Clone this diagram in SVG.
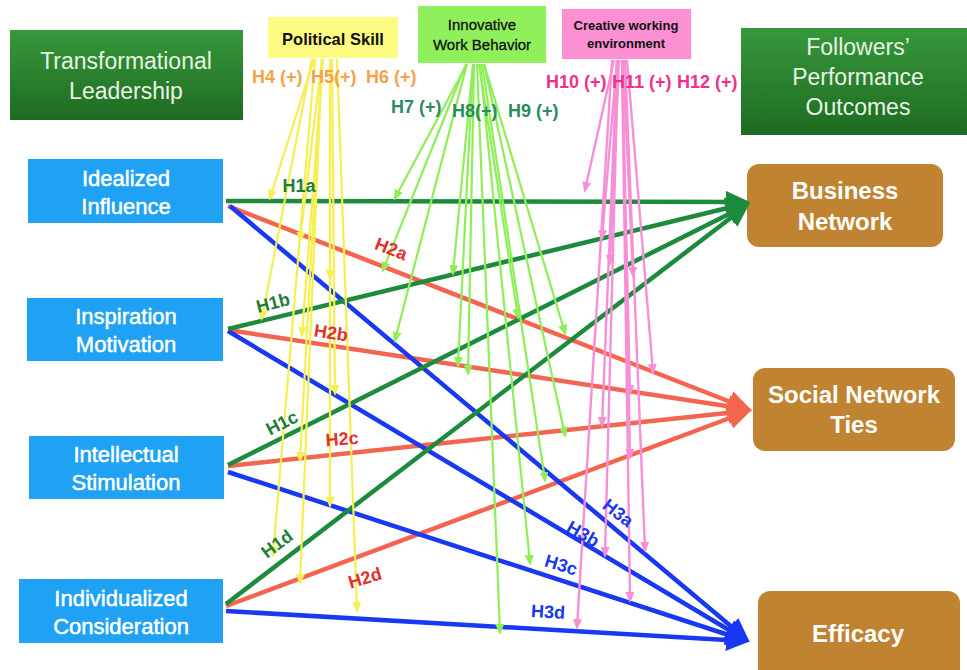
<svg xmlns="http://www.w3.org/2000/svg" width="967" height="670" viewBox="0 0 967 670">
<style>
text{font-family:"Liberation Sans",Arial,sans-serif}
.hdr{fill:#e8f3e4;font-size:23px;text-anchor:middle}
.blue{fill:#1fa2f3}
.bt{fill:#ffffff;font-size:22px;text-anchor:middle;stroke:#ffffff;stroke-width:0.5}
.brown{fill:#bf8331}
.brt{fill:#ffffff;font-size:24px;font-weight:bold;text-anchor:middle}
.mt{fill:#111;text-anchor:middle}
.lg{stroke:#1e8a3e;stroke-width:4.5;fill:none}
.lr{stroke:#f4654f;stroke-width:4.5;fill:none}
.lb{stroke:#1838f2;stroke-width:4.5;fill:none}
.my{stroke:#f5ef52;stroke-width:2.2;fill:none;marker-end:url(#aY)}
.mg{stroke:#8eee58;stroke-width:2.2;fill:none;marker-end:url(#aLG)}
.mp{stroke:#f78fd6;stroke-width:2.4;fill:none;marker-end:url(#aP)}
.hl{font-size:18px;font-weight:bold;text-anchor:middle}
.h1{fill:#1e7d3c}.h2{fill:#e3302b}.h3{fill:#1838f2}
.ml{font-size:18px;font-weight:bold}
</style>
<defs>
<linearGradient id="gHdr" x1="0" y1="0" x2="0" y2="1">
<stop offset="0" stop-color="#36983a"/><stop offset="1" stop-color="#1f6a22"/>
</linearGradient>
<marker id="aG" markerUnits="userSpaceOnUse" markerWidth="26" markerHeight="24" refX="18" refY="11" orient="auto"><path d="M0,0 L24,11 L0,22 z" fill="#1e8a3e"/></marker>
<marker id="aR" markerUnits="userSpaceOnUse" markerWidth="26" markerHeight="24" refX="18" refY="11" orient="auto"><path d="M0,0 L24,11 L0,22 z" fill="#f4654f"/></marker>
<marker id="aB" markerUnits="userSpaceOnUse" markerWidth="26" markerHeight="24" refX="18" refY="11" orient="auto"><path d="M0,0 L24,11 L0,22 z" fill="#1838f2"/></marker>
<marker id="aY" markerUnits="userSpaceOnUse" markerWidth="12" markerHeight="10" refX="8" refY="4.5" orient="auto"><path d="M0,0 L11,4.5 L0,9 z" fill="#f5ef52"/></marker>
<marker id="aLG" markerUnits="userSpaceOnUse" markerWidth="12" markerHeight="10" refX="8" refY="4.5" orient="auto"><path d="M0,0 L11,4.5 L0,9 z" fill="#8eee58"/></marker>
<marker id="aP" markerUnits="userSpaceOnUse" markerWidth="12" markerHeight="10" refX="8" refY="4.5" orient="auto"><path d="M0,0 L11,4.5 L0,9 z" fill="#f78fd6"/></marker>
</defs>
<rect width="967" height="670" fill="#ffffff"/>

<g id="transformational-leadership">
<rect x="10" y="30" width="233" height="90" fill="url(#gHdr)"/>
<text class="hdr" x="126" y="69">Transformational</text>
<text class="hdr" x="126" y="99">Leadership</text>
</g>
<g id="followers-performance">
<rect x="741" y="28" width="230" height="107" fill="url(#gHdr)"/>
<text class="hdr" x="858" y="55" font-size="24">Followers’</text>
<text class="hdr" x="858" y="85" font-size="24">Performance</text>
<text class="hdr" x="858" y="115" font-size="24">Outcomes</text>
</g>
<g id="political-skill">
<rect x="268" y="17" width="130" height="41" fill="#fdfb82"/>
<text class="mt" x="333" y="45" font-size="16.5" font-weight="bold">Political Skill</text>
</g>
<g id="innovative-work-behavior">
<rect x="418" y="6" width="128" height="57" fill="#8ff05c"/>
<text class="mt" x="482" y="30" font-size="15" stroke="#111" stroke-width="0.3">Innovative</text>
<text class="mt" x="482" y="50" font-size="15" stroke="#111" stroke-width="0.3">Work Behavior</text>
</g>
<g id="creative-working-environment">
<rect x="562" y="9" width="129" height="50" fill="#fc90d2"/>
<text class="mt" x="626" y="30" font-size="13" font-weight="bold">Creative working</text>
<text class="mt" x="626" y="48" font-size="13" font-weight="bold">environment</text>
</g>

<g id="idealized-influence">
<rect class="blue" x="28" y="159" width="195" height="64"/>
<text class="bt" x="126" y="186">Idealized</text>
<text class="bt" x="126" y="214">Influence</text>
</g>
<g id="inspiration-motivation">
<rect class="blue" x="27" y="298" width="196" height="63"/>
<text class="bt" x="126" y="324">Inspiration</text>
<text class="bt" x="126" y="352">Motivation</text>
</g>
<g id="intellectual-stimulation">
<rect class="blue" x="29" y="436" width="195" height="63"/>
<text class="bt" x="126" y="462">Intellectual</text>
<text class="bt" x="126" y="490">Stimulation</text>
</g>
<g id="individualized-consideration">
<rect class="blue" x="19" y="579" width="204" height="64"/>
<text class="bt" x="121" y="606">Individualized</text>
<text class="bt" x="121" y="634">Consideration</text>
</g>

<g id="business-network">
<rect class="brown" x="747" y="164" width="196" height="83" rx="12"/>
<text class="brt" x="845" y="199">Business</text>
<text class="brt" x="845" y="230">Network</text>
</g>
<g id="social-network-ties">
<rect class="brown" x="753" y="368" width="202" height="83" rx="12"/>
<text class="brt" x="854" y="403">Social Network</text>
<text class="brt" x="854" y="433">Ties</text>
</g>
<g id="efficacy">
<rect class="brown" x="758" y="591" width="202" height="90" rx="12"/>
<text class="brt" x="858" y="642">Efficacy</text>
</g>

<g id="connectors">
<line class="lr" x1="228" y1="206" x2="746" y2="408" marker-end="url(#aR)"/>
<line class="lr" x1="228" y1="330" x2="746" y2="409" marker-end="url(#aR)"/>
<line class="lr" x1="228" y1="466" x2="746" y2="411" marker-end="url(#aR)"/>
<line class="lr" x1="226" y1="606" x2="746" y2="412" marker-end="url(#aR)"/>
<line class="lb" x1="230" y1="206" x2="745" y2="638" marker-end="url(#aB)"/>
<line class="lb" x1="228" y1="331" x2="744" y2="639" marker-end="url(#aB)"/>
<line class="lb" x1="228" y1="472" x2="744" y2="640" marker-end="url(#aB)"/>
<line class="lb" x1="226" y1="611" x2="744" y2="641" marker-end="url(#aB)"/>
<line class="lg" x1="226" y1="201" x2="744" y2="202" marker-end="url(#aG)"/>
<line class="lg" x1="228" y1="329" x2="744" y2="204" marker-end="url(#aG)"/>
<line class="lg" x1="228" y1="465" x2="745" y2="206" marker-end="url(#aG)"/>
<line class="lg" x1="226" y1="604" x2="745" y2="207" marker-end="url(#aG)"/>

<!-- Political Skill moderators -->
<line class="my" x1="314" y1="59" x2="270" y2="198"/>
<line class="my" x1="322" y1="59" x2="300" y2="240"/>
<line class="my" x1="312" y1="59" x2="262" y2="318"/>
<line class="my" x1="323" y1="59" x2="302" y2="335"/>
<line class="my" x1="330" y1="59" x2="330" y2="278"/>
<line class="my" x1="332" y1="59" x2="335" y2="393"/>
<line class="my" x1="322" y1="59" x2="300" y2="460"/>
<line class="my" x1="330" y1="59" x2="330" y2="505"/>
<line class="my" x1="315" y1="59" x2="273" y2="555"/>
<line class="my" x1="322" y1="59" x2="300" y2="582"/>
<line class="my" x1="337" y1="59" x2="357" y2="610"/>

<!-- Innovative Work Behavior moderators -->
<line class="mg" x1="467" y1="64" x2="395" y2="198"/>
<line class="mg" x1="466" y1="64" x2="383" y2="270"/>
<line class="mg" x1="467" y1="64" x2="395" y2="340"/>
<line class="mg" x1="473" y1="64" x2="453" y2="273"/>
<line class="mg" x1="473" y1="64" x2="458" y2="365"/>
<line class="mg" x1="474" y1="64" x2="468" y2="373"/>
<line class="mg" x1="479" y1="64" x2="518" y2="317"/>
<line class="mg" x1="484" y1="64" x2="565" y2="333"/>
<line class="mg" x1="484" y1="64" x2="565" y2="435"/>
<line class="mg" x1="482" y1="64" x2="545" y2="480"/>
<line class="mg" x1="480" y1="64" x2="530" y2="563"/>
<line class="mg" x1="477" y1="64" x2="500" y2="632"/>

<!-- Creative working environment moderators -->
<line class="mp" x1="614" y1="60" x2="585" y2="190"/>
<line class="mp" x1="617" y1="60" x2="602" y2="238"/>
<line class="mp" x1="619" y1="60" x2="610" y2="263"/>
<line class="mp" x1="623" y1="60" x2="633" y2="275"/>
<line class="mp" x1="627" y1="60" x2="653" y2="372"/>
<line class="mp" x1="622" y1="60" x2="630" y2="393"/>
<line class="mp" x1="617" y1="60" x2="602" y2="425"/>
<line class="mp" x1="622" y1="60" x2="630" y2="457"/>
<line class="mp" x1="618" y1="60" x2="605" y2="555"/>
<line class="mp" x1="625" y1="60" x2="645" y2="550"/>
<line class="mp" x1="622" y1="60" x2="630" y2="600"/>
<line class="mp" x1="612" y1="60" x2="577" y2="627"/>

<!-- path labels -->
<text class="hl h1" x="299" y="192">H1a</text>
<text class="hl h1" transform="translate(273,303) rotate(-14)" y="6">H1b</text>
<text class="hl h1" transform="translate(282,423) rotate(-27)" y="6">H1c</text>
<text class="hl h1" transform="translate(277,544) rotate(-37)" y="6">H1d</text>
<text class="hl h2" transform="translate(391,249) rotate(21)" y="6">H2a</text>
<text class="hl h2" transform="translate(331,333) rotate(9)" y="6">H2b</text>
<text class="hl h2" transform="translate(342,439) rotate(-4)" y="6">H2c</text>
<text class="hl h2" transform="translate(365,578) rotate(-17)" y="6">H2d</text>
<text class="hl h3" transform="translate(618,513) rotate(38)" y="6">H3a</text>
<text class="hl h3" transform="translate(583,534) rotate(30)" y="6">H3b</text>
<text class="hl h3" transform="translate(561,565) rotate(17)" y="6">H3c</text>
<text class="hl h3" transform="translate(548,612) rotate(3)" y="6">H3d</text>

<!-- moderator labels -->
<text class="ml" x="252" y="83" fill="#f5a24c">H4 (+)</text>
<text class="ml" x="311" y="83" fill="#f5a24c">H5(+)</text>
<text class="ml" x="366" y="83" fill="#f5a24c">H6 (+)</text>
<text class="ml" x="391" y="113" fill="#2a8a60">H7 (+)</text>
<text class="ml" x="452" y="117" fill="#2a8a60">H8(+)</text>
<text class="ml" x="508" y="117" fill="#2a8a60">H9 (+)</text>
<text class="ml" x="546" y="88" fill="#f0308c">H10 (+)</text>
<text class="ml" x="612" y="88" fill="#f0308c">H11 (+)</text>
<text class="ml" x="677" y="88" fill="#f0308c">H12 (+)</text>
</g>
</svg>
